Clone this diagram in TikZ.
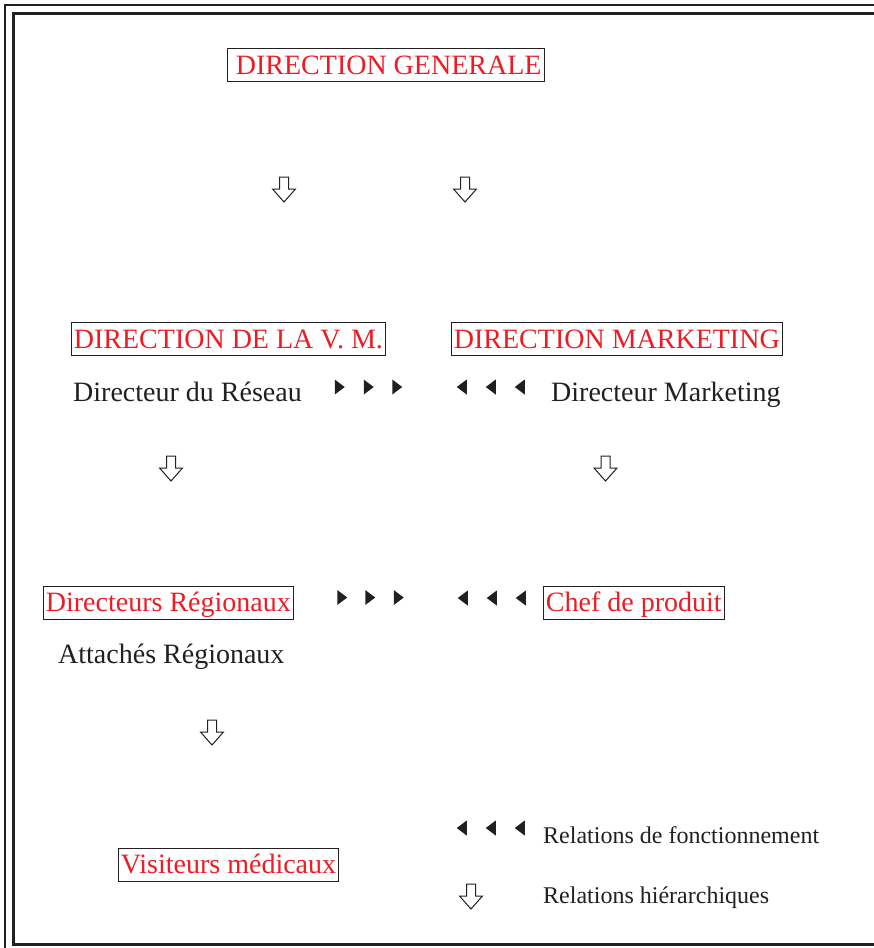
\documentclass[tikz,border=0pt]{standalone}
\usepackage{fontspec}
\setmainfont{Liberation Serif}
\usetikzlibrary{shapes.geometric}
\definecolor{orgred}{RGB}{237,28,36}
\definecolor{ink}{RGB}{35,31,32}
% hollow down arrow: centre x, top y
\newcommand{\hierarrow}[2]{\draw[line width=1pt,ink] (#1-4.5,#2) -- (#1+4.5,#2) -- (#1+4.5,#2+12) -- (#1+11.5,#2+12) -- (#1,#2+25) -- (#1-11.5,#2+12) -- (#1-4.5,#2+12) -- cycle;}
\begin{document}
\begin{tikzpicture}[x=1pt, y=-1pt, every node/.style={font=\fontsize{28}{32}\selectfont, text=ink},
  redbox/.style={draw=ink, line width=0.8pt, text=orgred, anchor=west, inner xsep=2.5pt, inner ysep=4pt, text height=21.5pt, text depth=3.5pt},
  plain/.style={anchor=base west, inner sep=0pt},
  legend/.style={plain, font=\fontsize{24}{28}\selectfont},
  fwd/.style={isosceles triangle, isosceles triangle stretches, fill=ink, inner sep=0pt, minimum width=15pt, minimum height=10pt},
  bwd/.style={fwd, shape border rotate=180}]
\useasboundingbox (0,0) rectangle (874,948);
\clip (0,0) rectangle (874,948);
% frames
\draw[ink,line width=2pt] (5,5) rectangle (890,965);
\draw[ink,line width=3pt] (13.5,13.5) rectangle (890,944.5);
% boxes
\node[redbox] (dg) at (227,65) {\hspace*{6pt}DIRECTION GENERALE};
\node[redbox] (dvm) at (71,339) {DIRECTION DE LA V. M.};
\node[redbox] (dmk) at (451,339) {DIRECTION MARKETING};
\node[redbox] (dreg) at (43,602.5) {Directeurs Régionaux};
\node[redbox] (chef) at (543,602.5) {Chef de produit};
\node[redbox] (vis) at (118,864.5) {Visiteurs médicaux};
% plain titles
\node[plain] (dres) at (73,401) {Directeur du Réseau};
\node[plain] (dirmk) at (551,401) {Directeur Marketing};
\node[plain] (att) at (58,663) {Attachés Régionaux};
% relations de fonctionnement
\node[fwd] (f1) at (338.5,387) {}; \node[fwd] (f2) at (367.5,387) {}; \node[fwd] (f3) at (396,387) {};
\node[bwd] (b1) at (463,387) {}; \node[bwd] (b2) at (492,387) {}; \node[bwd] (b3) at (521,387) {};
\node[fwd] (f4) at (341,597.5) {}; \node[fwd] (f5) at (369,597.5) {}; \node[fwd] (f6) at (397.5,597.5) {};
\node[bwd] (b4) at (464,598) {}; \node[bwd] (b5) at (493,598) {}; \node[bwd] (b6) at (522,598) {};
% relations hierarchiques
\hierarrow{284}{177}
\hierarrow{465}{177}
\hierarrow{171}{456}
\hierarrow{605.5}{456}
\hierarrow{212}{720}
% legend
\node[bwd] (lb1) at (463,828) {}; \node[bwd] (lb2) at (492,828) {}; \node[bwd] (lb3) at (521,828) {};
\node[legend] (lfon) at (543,843) {Relations de fonctionnement};
\hierarrow{471}{884}
\node[legend] (lhie) at (543,903) {Relations hiérarchiques};
\end{tikzpicture}
\end{document}
